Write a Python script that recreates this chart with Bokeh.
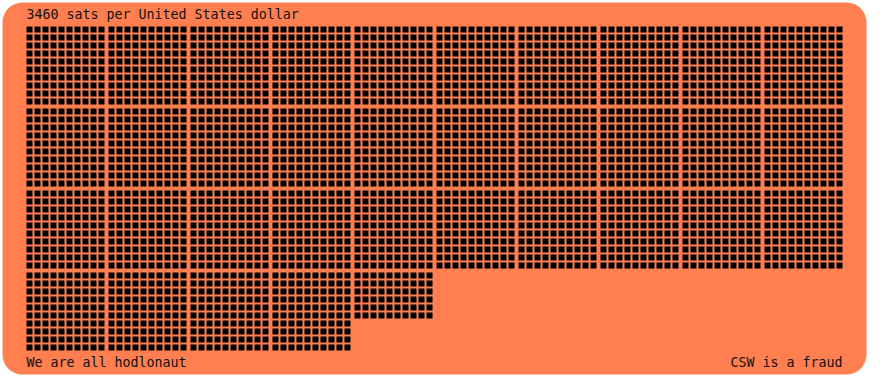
from bokeh.plotting import figure
from bokeh.models import Range1d, ColumnDataSource
from bokeh.core.properties import value
from bokeh.embed import file_html
from bokeh.resources import INLINE

# ---- data ----
sats_per_dollar = 3460
currency = "United States dollar"
title_text = f"{sats_per_dollar} sats per {currency}"
footer_left = "We are all hodlonaut"
footer_right = "CSW is a fraud"
per_row = 10          # sats per row within a block
per_block = 100       # sats per block
blocks_per_line = 10  # blocks per line

W, H = 868, 376
BG = "#FF7F50"
FONT = "DejaVu Sans Mono"

p = figure(width=W, height=H, output_backend="svg", toolbar_location=None,
           x_range=Range1d(0, W), y_range=Range1d(H, 0),
           min_border=0, outline_line_color=None,
           background_fill_color="white", border_fill_color="white")
p.axis.visible = False
p.grid.visible = False

# rounded card
p.quad(left=[2], right=[W - 2], top=[2], bottom=[H - 2],
       fill_color=BG, line_color=None, border_radius=20)

# squares
x0, y0 = 26, 26
pitch, size, block_pitch = 8, 6, 82
xs, ys = [], []
for i in range(sats_per_dollar):
    b = i // per_block
    r = (i % per_block) // per_row
    c = i % per_row
    br, bc = b // blocks_per_line, b % blocks_per_line
    xs.append(x0 + bc * block_pitch + c * pitch)
    ys.append(y0 + br * block_pitch + r * pitch)
src = ColumnDataSource(dict(l=xs, t=ys, r=[x + size for x in xs], b=[y + size for y in ys]))
p.quad(left="l", right="r", top="t", bottom="b", source=src,
       fill_color="black", line_color=None)

p.text(x=[26], y=[13.5], text=[title_text], text_font=value(FONT),
       text_font_size="13.3px", text_color="#111111",
       text_baseline="middle", text_align="left")
p.text(x=[26], y=[362], text=[footer_left], text_font=value(FONT),
       text_font_size="13.3px", text_color="#111111",
       text_baseline="middle", text_align="left")
p.text(x=[842], y=[362], text=[footer_right], text_font=value(FONT),
       text_font_size="13.3px", text_color="#111111",
       text_baseline="middle", text_align="right")

open("out.html", "w").write(file_html(p, INLINE))
